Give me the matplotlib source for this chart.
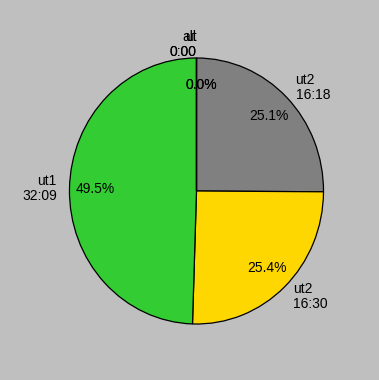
import matplotlib
matplotlib.use("Agg")
import matplotlib.pyplot as plt

plt.rcParams['font.family'] = ['Liberation Sans', 'DejaVu Sans']

names = ["ut2", "ut2", "ut1", "ut", "all"]
seconds = [978, 990, 1929, 0, 0]
colors = ["#808080", "#ffd700", "#33cc33", "#33cc33", "#33cc33"]

labels = [f"{n}\n{s // 60}:{s % 60:02d}" for n, s in zip(names, seconds)]

bg = "#bfbfbf"
fig = plt.figure(figsize=(3.79, 3.80), dpi=100, facecolor=bg)
ax = fig.add_axes([0, 0, 1, 1])
ax.set_facecolor(bg)

wedges, texts, autotexts = ax.pie(
    seconds, labels=labels, colors=colors, startangle=90, counterclock=False,
    autopct="%1.1f%%", pctdistance=0.8, labeldistance=1.1,
    wedgeprops=dict(edgecolor="black", linewidth=0.9),
    textprops=dict(fontsize=10, color="black", linespacing=1.1),
)
for t, a, s in zip(texts, autotexts, seconds):
    if s == 0:
        t.set_horizontalalignment("right")
        a.set_horizontalalignment("left")
        a.set_x(a.get_position()[0] - 0.09)
ax.set_aspect("auto")
ax.set_xlim(-1.547, 1.437)
ax.set_ylim(-1.421, 1.436)
ax.axis("off")

fig.savefig("out.png", dpi=100, facecolor=bg)
